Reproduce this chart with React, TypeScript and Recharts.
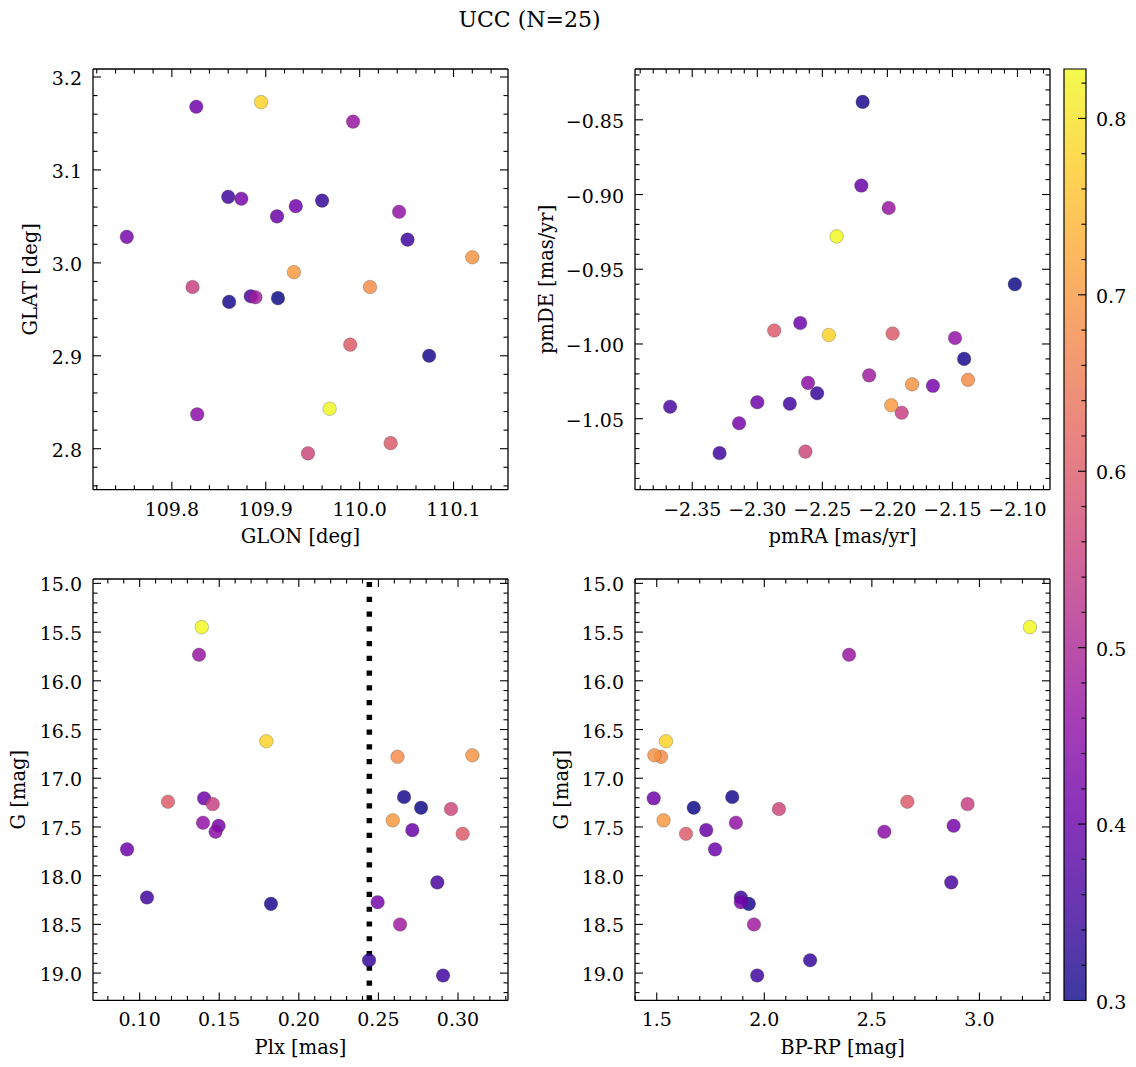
import React from 'react';
import { ScatterChart, Scatter, XAxis, YAxis, ReferenceLine, ReferenceArea, ComposedChart } from 'recharts';

// ---------------- data: one entry per star ----------------
const GLON = [109.968, 109.895, 110.120, 110.011, 109.930, 109.990, 110.033, 109.822, 109.945, 109.993, 110.042, 109.889, 109.827, 109.826, 109.874, 109.912, 109.932, 109.752, 109.884, 109.860, 109.960, 110.051, 109.861, 109.913, 110.074];
const GLAT = [2.843, 3.173, 3.006, 2.974, 2.990, 2.912, 2.806, 2.974, 2.795, 3.152, 3.055, 2.963, 2.837, 3.168, 3.069, 3.050, 3.061, 3.028, 2.964, 3.071, 3.067, 3.025, 2.958, 2.962, 2.900];
const PMRA = [-2.239, -2.245, -2.181, -2.138, -2.197, -2.287, -2.196, -2.189, -2.263, -2.199, -2.148, -2.214, -2.261, -2.300, -2.314, -2.220, -2.267, -2.165, -2.367, -2.275, -2.254, -2.329, -2.219, -2.102, -2.141];
const PMDE = [-0.928, -0.994, -1.027, -1.024, -1.041, -0.991, -0.993, -1.046, -1.072, -0.909, -0.996, -1.021, -1.026, -1.039, -1.053, -0.894, -0.986, -1.028, -1.042, -1.040, -1.033, -1.073, -0.838, -0.960, -1.010];
const PLX = [0.139, 0.1796, 0.309, 0.262, 0.259, 0.1178, 0.3029, 0.1459, 0.2956, 0.1373, 0.1398, 0.2636, 0.1477, 0.1405, 0.1496, 0.2713, 0.0921, 0.2495, 0.287, 0.1046, 0.2441, 0.2906, 0.2661, 0.2768, 0.1825];
const GMAG = [15.449, 16.62, 16.764, 16.78, 17.432, 17.241, 17.570, 17.265, 17.316, 15.733, 17.457, 18.501, 17.549, 17.206, 17.488, 17.532, 17.730, 18.272, 18.069, 18.224, 18.868, 19.025, 17.193, 17.303, 18.289];
const BPRP = [3.235, 1.543, 1.489, 1.520, 1.532, 2.665, 1.636, 2.945, 2.068, 2.394, 1.868, 1.952, 2.558, 1.486, 2.880, 1.730, 1.771, 1.891, 2.869, 1.891, 2.213, 1.967, 1.851, 1.672, 1.928];
const PROB = [0.828, 0.78, 0.69, 0.68, 0.70, 0.60, 0.60, 0.55, 0.56, 0.47, 0.46, 0.48, 0.45, 0.41, 0.42, 0.40, 0.41, 0.42, 0.36, 0.35, 0.34, 0.35, 0.31, 0.30, 0.31];

const PLX_CUT = 0.2443;
const TITLE = 'UCC (N=25)';

// ---------------- tick labels ----------------
const glonTicks = [109.8, 109.9, 110.0, 110.1];
const glatTicks = [2.8, 2.9, 3.0, 3.1, 3.2];
const pmraTicks = [-2.35, -2.3, -2.25, -2.2, -2.15, -2.1];
const pmdeTicks = [-1.05, -1.0, -0.95, -0.9, -0.85];
const plxTicks = [0.1, 0.15, 0.2, 0.25, 0.3];
const bprpTicks = [1.5, 2.0, 2.5, 3.0];
const gTicks = [15.0, 15.5, 16.0, 16.5, 17.0, 17.5, 18.0, 18.5, 19.0];
const cbTicks = [0.3, 0.4, 0.5, 0.6, 0.7, 0.8];

const CB_MIN = 0.3;
const CB_MAX = 0.828;

const PLASMA = ['#0d0887', '#41049d', '#6a00a8', '#8f0da4', '#b12a90', '#cc4778', '#e16462', '#f2844b', '#fca636', '#fcce25', '#f0f921'];

function hexToRgb(h: string) {
  return [parseInt(h.slice(1, 3), 16), parseInt(h.slice(3, 5), 16), parseInt(h.slice(5, 7), 16)];
}
function plasma(t: number) {
  const c = Math.max(0, Math.min(1, t));
  const s = c * 10;
  const i = Math.min(9, Math.floor(s));
  const f = s - i;
  const a = hexToRgb(PLASMA[i]);
  const b = hexToRgb(PLASMA[i + 1]);
  const m = a.map((v, k) => Math.round(v + (b[k] - v) * f));
  return `rgb(${m[0]},${m[1]},${m[2]})`;
}

const rows = PROB.map((p, i) => ({
  glon: GLON[i], glat: GLAT[i], pmra: PMRA[i], pmde: PMDE[i], plx: PLX[i], g: GMAG[i], bprp: BPRP[i], p,
  color: plasma((p - CB_MIN) / (CB_MAX - CB_MIN)),
})).sort((a, b) => a.p - b.p);

// ---------------- styling helpers ----------------
const FONT = '"DejaVu Serif", serif';
const TICK_FS = 19;
const LABEL_FS = 19.5;
const LW = 100;
const BH = 70;
const M = 6;

function minorTicks(domain: [number, number], step: number) {
  const lo = Math.min(domain[0], domain[1]);
  const hi = Math.max(domain[0], domain[1]);
  const out: number[] = [];
  for (let k = Math.ceil(lo / step - 1e-9); k * step <= hi + 1e-9; k++) out.push(+(k * step).toFixed(6));
  return out;
}
const fmtFixed = (d: number) => (v: number) => v.toFixed(d).replace('-', '\u2212');
const isMajor = (v: number, majors: number[]) => majors.some((m) => Math.abs(m - v) < 1e-7);

function makeTick(side: 'bottom' | 'top' | 'left' | 'right', majors: number[], fmt?: (v: number) => string) {
  return (props: any) => {
    const { x, y, payload } = props;
    const v = payload.value;
    const major = isMajor(v, majors);
    const len = major ? 8 : 4.5;
    let line: any = null;
    let label: any = null;
    const tprops = { fontFamily: FONT, fontSize: TICK_FS, fill: '#000' };
    if (side === 'bottom') {
      line = <line x1={x} y1={y} x2={x} y2={y - len} stroke="#000" strokeWidth={1.1} />;
      if (major && fmt) label = <text x={x} y={y + 19} textAnchor="middle" dominantBaseline="central" {...tprops}>{fmt(v)}</text>;
    } else if (side === 'top') {
      line = <line x1={x} y1={y} x2={x} y2={y + len} stroke="#000" strokeWidth={1.1} />;
    } else if (side === 'left') {
      line = <line x1={x} y1={y} x2={x + len} y2={y} stroke="#000" strokeWidth={1.1} />;
      if (major && fmt) label = <text x={x - 11} y={y + 1} textAnchor="end" dominantBaseline="central" {...tprops}>{fmt(v)}</text>;
    } else {
      line = <line x1={x} y1={y} x2={x - len} y2={y} stroke="#000" strokeWidth={1.1} />;
      if (major && fmt) label = <text x={x + 10} y={y + 1} textAnchor="start" dominantBaseline="central" {...tprops}>{fmt(v)}</text>;
    }
    return (
      <g>
        {line}
        {label}
      </g>
    );
  };
}

const renderDot = (props: any) => (
  <circle cx={props.cx} cy={props.cy} r={6.8} fill={props.payload.color} fillOpacity={0.84} stroke="#333" strokeOpacity={0.45} strokeWidth={0.6} />
);
const renderNothing = () => <g />;

type Rect = { x: number; y: number; w: number; h: number };

type PanelProps = {
  rect: Rect;
  xKey: string;
  yKey: string;
  xDomain: [number, number];
  yDomain: [number, number];
  xMajor: number[];
  yMajor: number[];
  xStep: number;
  yStep: number;
  xFmt: (v: number) => string;
  yFmt: (v: number) => string;
  xLabel: string;
  yLabel: string;
  yLabelX: number;
  reversed?: boolean;
  vline?: number;
};

function Panel(pp: PanelProps) {
  const { rect, xKey, yKey, xDomain, yDomain, xMajor, yMajor, xStep, yStep, xFmt, yFmt, xLabel, yLabel, yLabelX, reversed, vline } = pp;
  const width = LW + rect.w + M;
  const height = M + rect.h + BH;
  const left = rect.x - LW;
  const top = rect.y - M;
  const xAll = minorTicks(xDomain, xStep);
  const yAll = minorTicks(yDomain, yStep);
  const axisLine = { stroke: '#000', strokeWidth: 1.3 };
  const lx = yLabelX - left;
  const ly = M + rect.h / 2;
  return (
    <div style={{ position: 'absolute', left, top, width, height }}>
      <ScatterChart width={width} height={height} margin={{ top: M - 1, right: M - 1, bottom: 0, left: 0 }}>
        <XAxis
          xAxisId={0}
          type="number"
          dataKey={xKey}
          domain={xDomain}
          allowDataOverflow
          ticks={xAll}
          interval={0}
          tickSize={0}
          tickMargin={0}
          height={BH}
          axisLine={axisLine}
          tickLine={false}
          tick={makeTick('bottom', xMajor, xFmt)}
          label={{
            content: () => (
              <text x={LW + rect.w / 2} y={M + rect.h + 47} textAnchor="middle" dominantBaseline="central" fontFamily={FONT} fontSize={LABEL_FS} fill="#000">
                {xLabel}
              </text>
            ),
          }}
        />
        <XAxis
          xAxisId="top"
          orientation="top"
          type="number"
          dataKey={xKey}
          domain={xDomain}
          allowDataOverflow
          ticks={xAll}
          interval={0}
          tickSize={0}
          tickMargin={0}
          height={1}
          axisLine={axisLine}
          tickLine={false}
          tick={makeTick('top', xMajor)}
        />
        <YAxis
          yAxisId={0}
          type="number"
          dataKey={yKey}
          domain={yDomain}
          reversed={reversed}
          allowDataOverflow
          ticks={yAll}
          interval={0}
          tickSize={0}
          tickMargin={0}
          width={LW}
          axisLine={axisLine}
          tickLine={false}
          tick={makeTick('left', yMajor, yFmt)}
          label={{
            content: () => (
              <text x={lx} y={ly} transform={`rotate(-90 ${lx} ${ly})`} textAnchor="middle" dominantBaseline="central" fontFamily={FONT} fontSize={LABEL_FS} fill="#000">
                {yLabel}
              </text>
            ),
          }}
        />
        <YAxis
          yAxisId="right"
          orientation="right"
          type="number"
          dataKey={yKey}
          domain={yDomain}
          reversed={reversed}
          allowDataOverflow
          ticks={yAll}
          interval={0}
          tickSize={0}
          tickMargin={0}
          width={1}
          axisLine={axisLine}
          tickLine={false}
          tick={makeTick('right', yMajor)}
        />
        {vline !== undefined && (
          <ReferenceLine x={vline} xAxisId={0} yAxisId={0} stroke="#000" strokeWidth={5.5} strokeDasharray="5.2 9.56" />
        )}
        <Scatter data={rows} xAxisId="top" yAxisId="right" isAnimationActive={false} shape={renderNothing} legendType="none" />
        <Scatter data={rows} xAxisId={0} yAxisId={0} isAnimationActive={false} shape={renderDot} />
      </ScatterChart>
    </div>
  );
}

function Colorbar() {
  const rect = { x: 1064, y: 68.5, w: 22, h: 931.5 };
  const RW = 60;
  const MB = 24;
  const width = M + rect.w + RW;
  const height = M + rect.h + MB;
  const cbAll = minorTicks([CB_MIN, CB_MAX], 0.02);
  const cbData = [{ x: 0, y: CB_MIN }, { x: 1, y: CB_MAX }];
  return (
    <div style={{ position: 'absolute', left: rect.x - M, top: rect.y - M, width, height }}>
      <ComposedChart width={width} height={height} margin={{ top: M, right: 0, bottom: MB, left: M }} data={cbData}>
        <defs>
          <linearGradient id="plasmaCB" x1="0" y1="1" x2="0" y2="0">
            {PLASMA.map((c, i) => (
              <stop key={i} offset={i / 10} stopColor={c} />
            ))}
          </linearGradient>
        </defs>
        <XAxis type="number" dataKey="x" domain={[0, 1]} allowDataOverflow hide />
        <YAxis
          orientation="right"
          type="number"
          dataKey="y"
          domain={[CB_MIN, CB_MAX]}
          allowDataOverflow
          ticks={cbAll}
          interval={0}
          tickSize={0}
          tickMargin={0}
          width={RW}
          axisLine={false}
          tickLine={false}
          tick={makeTick('right', cbTicks, fmtFixed(1))}
        />
        <ReferenceArea x1={0} x2={1} y1={CB_MIN} y2={CB_MAX} fill="url(#plasmaCB)" fillOpacity={0.8} stroke="#000" strokeWidth={1.2} strokeOpacity={1} ifOverflow="visible" />
      </ComposedChart>
    </div>
  );
}

const P1: Rect = { x: 92.7, y: 69.3, w: 415, h: 420.7 };
const P2: Rect = { x: 635.3, y: 69.3, w: 415, h: 420.7 };
const P3: Rect = { x: 92.7, y: 579.3, w: 415, h: 421.4 };
const P4: Rect = { x: 635.3, y: 579.3, w: 415, h: 421.4 };

export default function App() {
  return (
    <div style={{ position: 'absolute', left: 0, top: 0, width: 1136, height: 1067, background: '#fff' }}>
      <div style={{ position: 'absolute', left: 329.5, top: 6, width: 400, textAlign: 'center', fontFamily: FONT, fontSize: 22, color: '#000', lineHeight: '28px' }}>
        {TITLE}
      </div>
      <Panel rect={P1} xKey="glon" yKey="glat" xDomain={[109.716, 110.158]} yDomain={[2.7559, 3.2086]} xMajor={glonTicks} yMajor={glatTicks} xStep={0.02} yStep={0.02} xFmt={fmtFixed(1)} yFmt={fmtFixed(1)} xLabel="GLON [deg]" yLabel="GLAT [deg]" yLabelX={30} />
      <Panel rect={P2} xKey="pmra" yKey="pmde" xDomain={[-2.394, -2.075]} yDomain={[-1.0975, -0.816]} xMajor={pmraTicks} yMajor={pmdeTicks} xStep={0.01} yStep={0.01} xFmt={fmtFixed(2)} yFmt={fmtFixed(2)} xLabel="pmRA [mas/yr]" yLabel="pmDE [mas/yr]" yLabelX={547} />
      <Panel rect={P3} xKey="plx" yKey="g" xDomain={[0.0707, 0.3314]} yDomain={[14.955, 19.28]} reversed xMajor={plxTicks} yMajor={gTicks} xStep={0.01} yStep={0.1} xFmt={fmtFixed(2)} yFmt={fmtFixed(1)} xLabel="Plx [mas]" yLabel="G [mag]" yLabelX={18} vline={PLX_CUT} />
      <Panel rect={P4} xKey="bprp" yKey="g" xDomain={[1.399, 3.328]} yDomain={[14.955, 19.28]} reversed xMajor={bprpTicks} yMajor={gTicks} xStep={0.1} yStep={0.1} xFmt={fmtFixed(1)} yFmt={fmtFixed(1)} xLabel="BP-RP [mag]" yLabel="G [mag]" yLabelX={562} />
      <Colorbar />
    </div>
  );
}
